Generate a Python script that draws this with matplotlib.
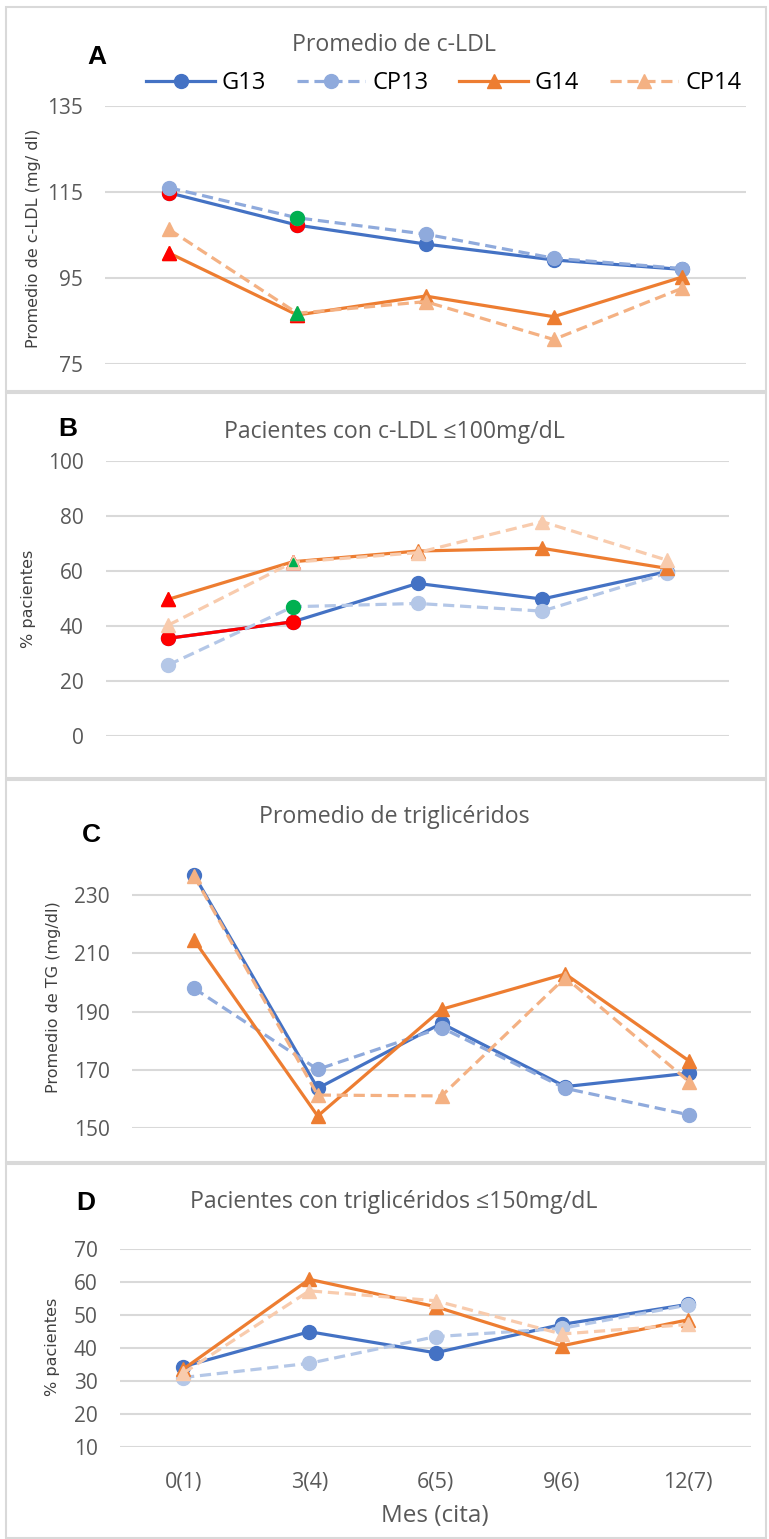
import matplotlib
matplotlib.use('Agg')
import matplotlib.pyplot as plt
from matplotlib.patches import Rectangle

# categories (month / visit)
months = ['0(1)', '3(4)', '6(5)', '9(6)', '12(7)']
series_names = ['G13', 'CP13', 'G14', 'CP14']

# A - mean c-LDL (mg/dl)
ldl_g13 = [114.8, 107.3, 102.9, 99.2, 97.0]
ldl_cp13 = [116.0, 109.0, 105.2, 99.6, 97.2]
ldl_g14 = [100.8, 86.4, 90.8, 86.0, 95.2]
ldl_cp14 = [106.3, 86.8, 89.5, 80.7, 92.6]

# B - % patients c-LDL <= 100
pct_ldl_g13 = [35.5, 41.5, 55.5, 49.8, 59.8]
pct_ldl_cp13 = [25.8, 47.0, 48.2, 45.4, 59.2]
pct_ldl_g14 = [49.7, 63.4, 67.3, 68.3, 61.0]
pct_ldl_cp14 = [40.3, 63.2, 66.7, 78.0, 64.0]

# C - mean triglycerides (mg/dl)
tg_g13 = [236.9, 163.7, 186.0, 164.3, 168.9]
tg_cp13 = [198.0, 170.2, 184.5, 163.7, 154.6]
tg_g14 = [214.6, 154.2, 190.8, 202.9, 173.1]
tg_cp14 = [236.6, 161.4, 161.1, 201.7, 166.0]

# D - % patients TG <= 150
pct_tg_g13 = [34.3, 44.9, 38.5, 47.1, 53.2]
pct_tg_cp13 = [31.0, 35.3, 43.4, 45.9, 53.0]
pct_tg_g14 = [33.5, 60.8, 52.5, 40.6, 48.5]
pct_tg_cp14 = [32.3, 57.3, 54.3, 44.2, 47.1]

# highlighted points: (series index, point index, colour)
hl_a = [(0, 0, 'red'), (0, 1, 'red'), (1, 1, '#00B050'), (2, 0, 'red'), (2, 1, 'red'), (3, 1, '#00B050')]
hl_b = [(0, 0, 'red'), (0, 1, 'red'), (1, 1, '#00B050'), (2, 0, 'red'), (2, 1, 'red'), (3, 1, '#00B050')]

W, H = 769, 1539
TXT = ['Open Sans', 'DejaVu Sans']
GREY = '#595959'

fig = plt.figure(figsize=(W / 100, H / 100), dpi=100)

def fx(x):
    return x / W

def fy(y):
    return 1 - y / H

def panel(box, ylim, yticks, data, cp_cols, title, title_y, letter, letter_xy,
          ylab, ylab_xy, hl=(), red_seg=False, xlabels=False):
    l, t, r, b = box
    ax = fig.add_axes([fx(l), fy(b), fx(r) - fx(l), fy(t) - fy(b)])
    x = list(range(len(months)))
    cols = ['#4472C4', cp_cols[0], '#ED7D31', cp_cols[1]]
    marks = ['o', 'o', '^', '^']
    lines = []
    for i, ys in enumerate(data):
        dashed = i % 2 == 1
        ln, = ax.plot(x, ys, color=cols[i], lw=2.3, marker=marks[i], ms=10,
                      mec=cols[i], mfc=cols[i], zorder=3 + i,
                      label=series_names[i], clip_on=False)
        if dashed:
            ln.set_dashes((3.5, 1.8))
        lines.append(ln)
        if red_seg and i == 0:
            ax.plot(x[:2], ys[:2], color='red', lw=2.3, zorder=3 + i)
        for s, p, c in hl:
            if s == i:
                ms = 10
                if red_seg and s == 3:
                    ms = 6
                ax.plot(x[p], ys[p], marker=marks[i], ms=ms, color=c, zorder=3 + i,
                        clip_on=False)
    ax.set_xlim(-0.5, len(months) - 0.5)
    ax.set_ylim(*ylim)
    ax.set_yticks(yticks)
    ax.grid(axis='y', color='#D9D9D9', lw=1.5)
    ax.set_axisbelow(True)
    for sp in ax.spines.values():
        sp.set_visible(False)
    ax.tick_params(axis='y', length=0, pad=16, labelsize=15, labelcolor=GREY)
    for lab in ax.get_yticklabels():
        lab.set_family(TXT)
    if xlabels:
        ax.set_xticks(x)
        ax.set_xticklabels(months, family=TXT, fontsize=15.5, color=GREY)
        ax.tick_params(axis='x', length=0, pad=18)
    else:
        ax.set_xticks([])
    fig.text(fx(394), fy(title_y), title, ha='center', va='center',
             fontsize=16.7, color=GREY, family=TXT)
    fig.text(fx(letter_xy[0]), fy(letter_xy[1]), letter, ha='center', va='center',
             fontsize=19, fontweight='bold', family=['Liberation Sans', 'DejaVu Sans'])
    fig.text(fx(ylab_xy[0]), fy(ylab_xy[1]), ylab, ha='center', va='center',
             rotation=90, fontsize=11.5, color='#404040')
    return ax, lines

# panel frames
for top, bot in [(7, 391), (393, 778), (780, 1162), (1164, 1538)]:
    fig.patches.append(Rectangle((fx(6), fy(bot)), fx(766) - fx(6), fy(top) - fy(bot),
                                 transform=fig.transFigure, fill=False,
                                 edgecolor='#D9D9D9', lw=1.5))

axA, hA = panel((105, 106, 746, 364), (75, 135), [75, 95, 115, 135],
                [ldl_g13, ldl_cp13, ldl_g14, ldl_cp14], ('#8FAADC', '#F4B183'),
                'Promedio de c-LDL', 45, 'A', (97, 57),
                'Promedio de c-LDL (mg/ dl)', (34, 238), hl=hl_a)
leg = axA.legend(handles=hA, loc='center', bbox_to_anchor=(fx(444), fy(83)),
                 bbox_transform=fig.transFigure, ncol=4, frameon=False,
                 handlelength=2.9, handletextpad=0.3, columnspacing=1.3,
                 prop={'family': TXT, 'size': 17})

panel((106, 461.3, 729, 735.7), (0, 100), [0, 20, 40, 60, 80, 100],
      [pct_ldl_g13, pct_ldl_cp13, pct_ldl_g14, pct_ldl_cp14], ('#B4C7E7', '#F8CBAD'),
      'Pacientes con c-LDL \u2264100mg/dL', 432, 'B', (68, 429),
      '% pacientes', (28, 599), hl=hl_b, red_seg=True)

panel((132, 865.8, 751, 1128.3), (150, 240), [150, 170, 190, 210, 230],
      [tg_g13, tg_cp13, tg_g14, tg_cp14], ('#8FAADC', '#F4B183'),
      'Promedio de triglicéridos', 817, 'C', (91, 835),
      'Promedio de TG (mg/dl)', (54, 997))

axD, _ = panel((120, 1249, 751, 1446.7), (10, 70), [10, 20, 30, 40, 50, 60, 70],
               [pct_tg_g13, pct_tg_cp13, pct_tg_g14, pct_tg_cp14], ('#B4C7E7', '#F8CBAD'),
               'Pacientes con triglicéridos \u2264150mg/dL', 1202, 'D', (86, 1203),
               '% pacientes', (53, 1347), xlabels=True)
fig.text(fx(435), fy(1516), 'Mes (cita)', ha='center', va='center',
         fontsize=17.5, color=GREY, family=TXT)

fig.savefig('out.png', dpi=100)
